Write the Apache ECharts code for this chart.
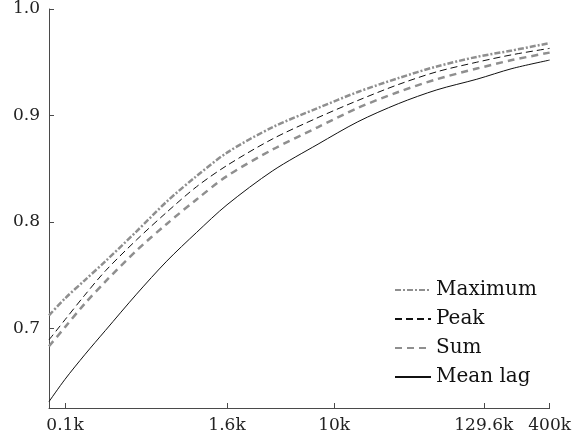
<!DOCTYPE html>
<html>
<head>
<meta charset="utf-8">
<script src="https://cdn.jsdelivr.net/npm/echarts@6/dist/echarts.min.js"></script>
<style>html,body{margin:0;padding:0;background:#fff}#c{width:574px;height:445px}</style>
</head>
<body>
<div id="c"></div>
<script>
var xValues = [76, 100, 140, 200, 340, 570, 950, 1600, 3500, 7600, 15000, 30000, 58000, 115000, 210000, 400000];
var maximum = [0.712, 0.728, 0.745, 0.763, 0.791, 0.819, 0.843, 0.865, 0.889, 0.907, 0.922, 0.935, 0.946, 0.955, 0.961, 0.968];
var peak    = [0.689, 0.708, 0.731, 0.754, 0.783, 0.809, 0.833, 0.853, 0.878, 0.898, 0.914, 0.929, 0.941, 0.950, 0.957, 0.963];
var sum     = [0.683, 0.701, 0.723, 0.744, 0.773, 0.798, 0.821, 0.843, 0.868, 0.889, 0.907, 0.922, 0.934, 0.944, 0.952, 0.959];
var meanLag = [0.631, 0.652, 0.675, 0.698, 0.732, 0.763, 0.790, 0.816, 0.848, 0.873, 0.894, 0.911, 0.924, 0.934, 0.944, 0.952];
var xTickValues = [100, 1600, 10000, 129600, 400000];
var xTickLabels = ['0.1k', '1.6k', '10k', '129.6k', '400k'];
var yTickValues = [0.7, 0.8, 0.9, 1.0];
var yTickLabels = ['0.7', '0.8', '0.9', '1.0'];

function pairs(ys) { return xValues.map(function (x, i) { return [x, ys[i]]; }); }
var FONT = 'DejaVu Serif';
var GRAY = '#8f8f8f';
var AXIS = '#4a4a4a';

var chart = echarts.init(document.getElementById('c'), null, {renderer: 'canvas'});
chart.setOption({
  animation: false,
  backgroundColor: '#fff',
  textStyle: {fontFamily: FONT},
  grid: {left: 49, right: 21, top: 9, bottom: 37, containLabel: false},
  legend: {
    orient: 'vertical', left: 389, top: 275,
    itemWidth: 36, itemHeight: 14, itemGap: 9,
    itemStyle: {opacity: 0},
    textStyle: {fontFamily: FONT, fontSize: 20, color: '#111'},
    data: ['Maximum', 'Peak', 'Sum', 'Mean lag']
  },
  xAxis: {
    type: 'log', logBase: 10, min: 76, max: 400000,
    axisLine: {show: true, lineStyle: {color: AXIS, width: 1}},
    axisTick: {show: true, inside: true, length: 5, customValues: xTickValues, lineStyle: {color: AXIS}},
    axisLabel: {
      customValues: xTickValues, margin: 9,
      fontFamily: FONT, fontSize: 17, color: '#222',
      formatter: function (v) {
        var i = xTickValues.findIndex(function (t) { return Math.abs(t - v) / t < 1e-6; });
        return i >= 0 ? xTickLabels[i] : '';
      }
    },
    splitLine: {show: false}
  },
  yAxis: {
    type: 'value', min: 0.625, max: 1.0,
    axisLine: {show: true, lineStyle: {color: AXIS, width: 1}},
    axisTick: {show: true, inside: true, length: 5, customValues: yTickValues, lineStyle: {color: AXIS}},
    axisLabel: {
      customValues: yTickValues, margin: 9,
      fontFamily: FONT, fontSize: 17, color: '#222',
      formatter: function (v) {
        var i = yTickValues.findIndex(function (t) { return Math.abs(t - v) < 1e-6; });
        return i >= 0 ? yTickLabels[i] : '';
      }
    },
    splitLine: {show: false}
  },
  series: [
    {name: 'Maximum', type: 'line', data: pairs(maximum), smooth: 0.3, symbol: 'none',
     itemStyle: {color: GRAY},
     lineStyle: {color: GRAY, width: 2.5, type: [6, 2, 2, 2]}},
    {name: 'Peak', type: 'line', data: pairs(peak), smooth: 0.3, symbol: 'none',
     itemStyle: {color: '#111'},
     lineStyle: {color: '#111', width: 1, type: [7, 4]}},
    {name: 'Sum', type: 'line', data: pairs(sum), smooth: 0.3, symbol: 'none',
     itemStyle: {color: GRAY},
     lineStyle: {color: GRAY, width: 2.5, type: [7, 5]}},
    {name: 'Mean lag', type: 'line', data: pairs(meanLag), smooth: 0.3, symbol: 'none',
     itemStyle: {color: '#111'},
     lineStyle: {color: '#111', width: 1, type: 'solid'}}
  ]
});
</script>
</body>
</html>
